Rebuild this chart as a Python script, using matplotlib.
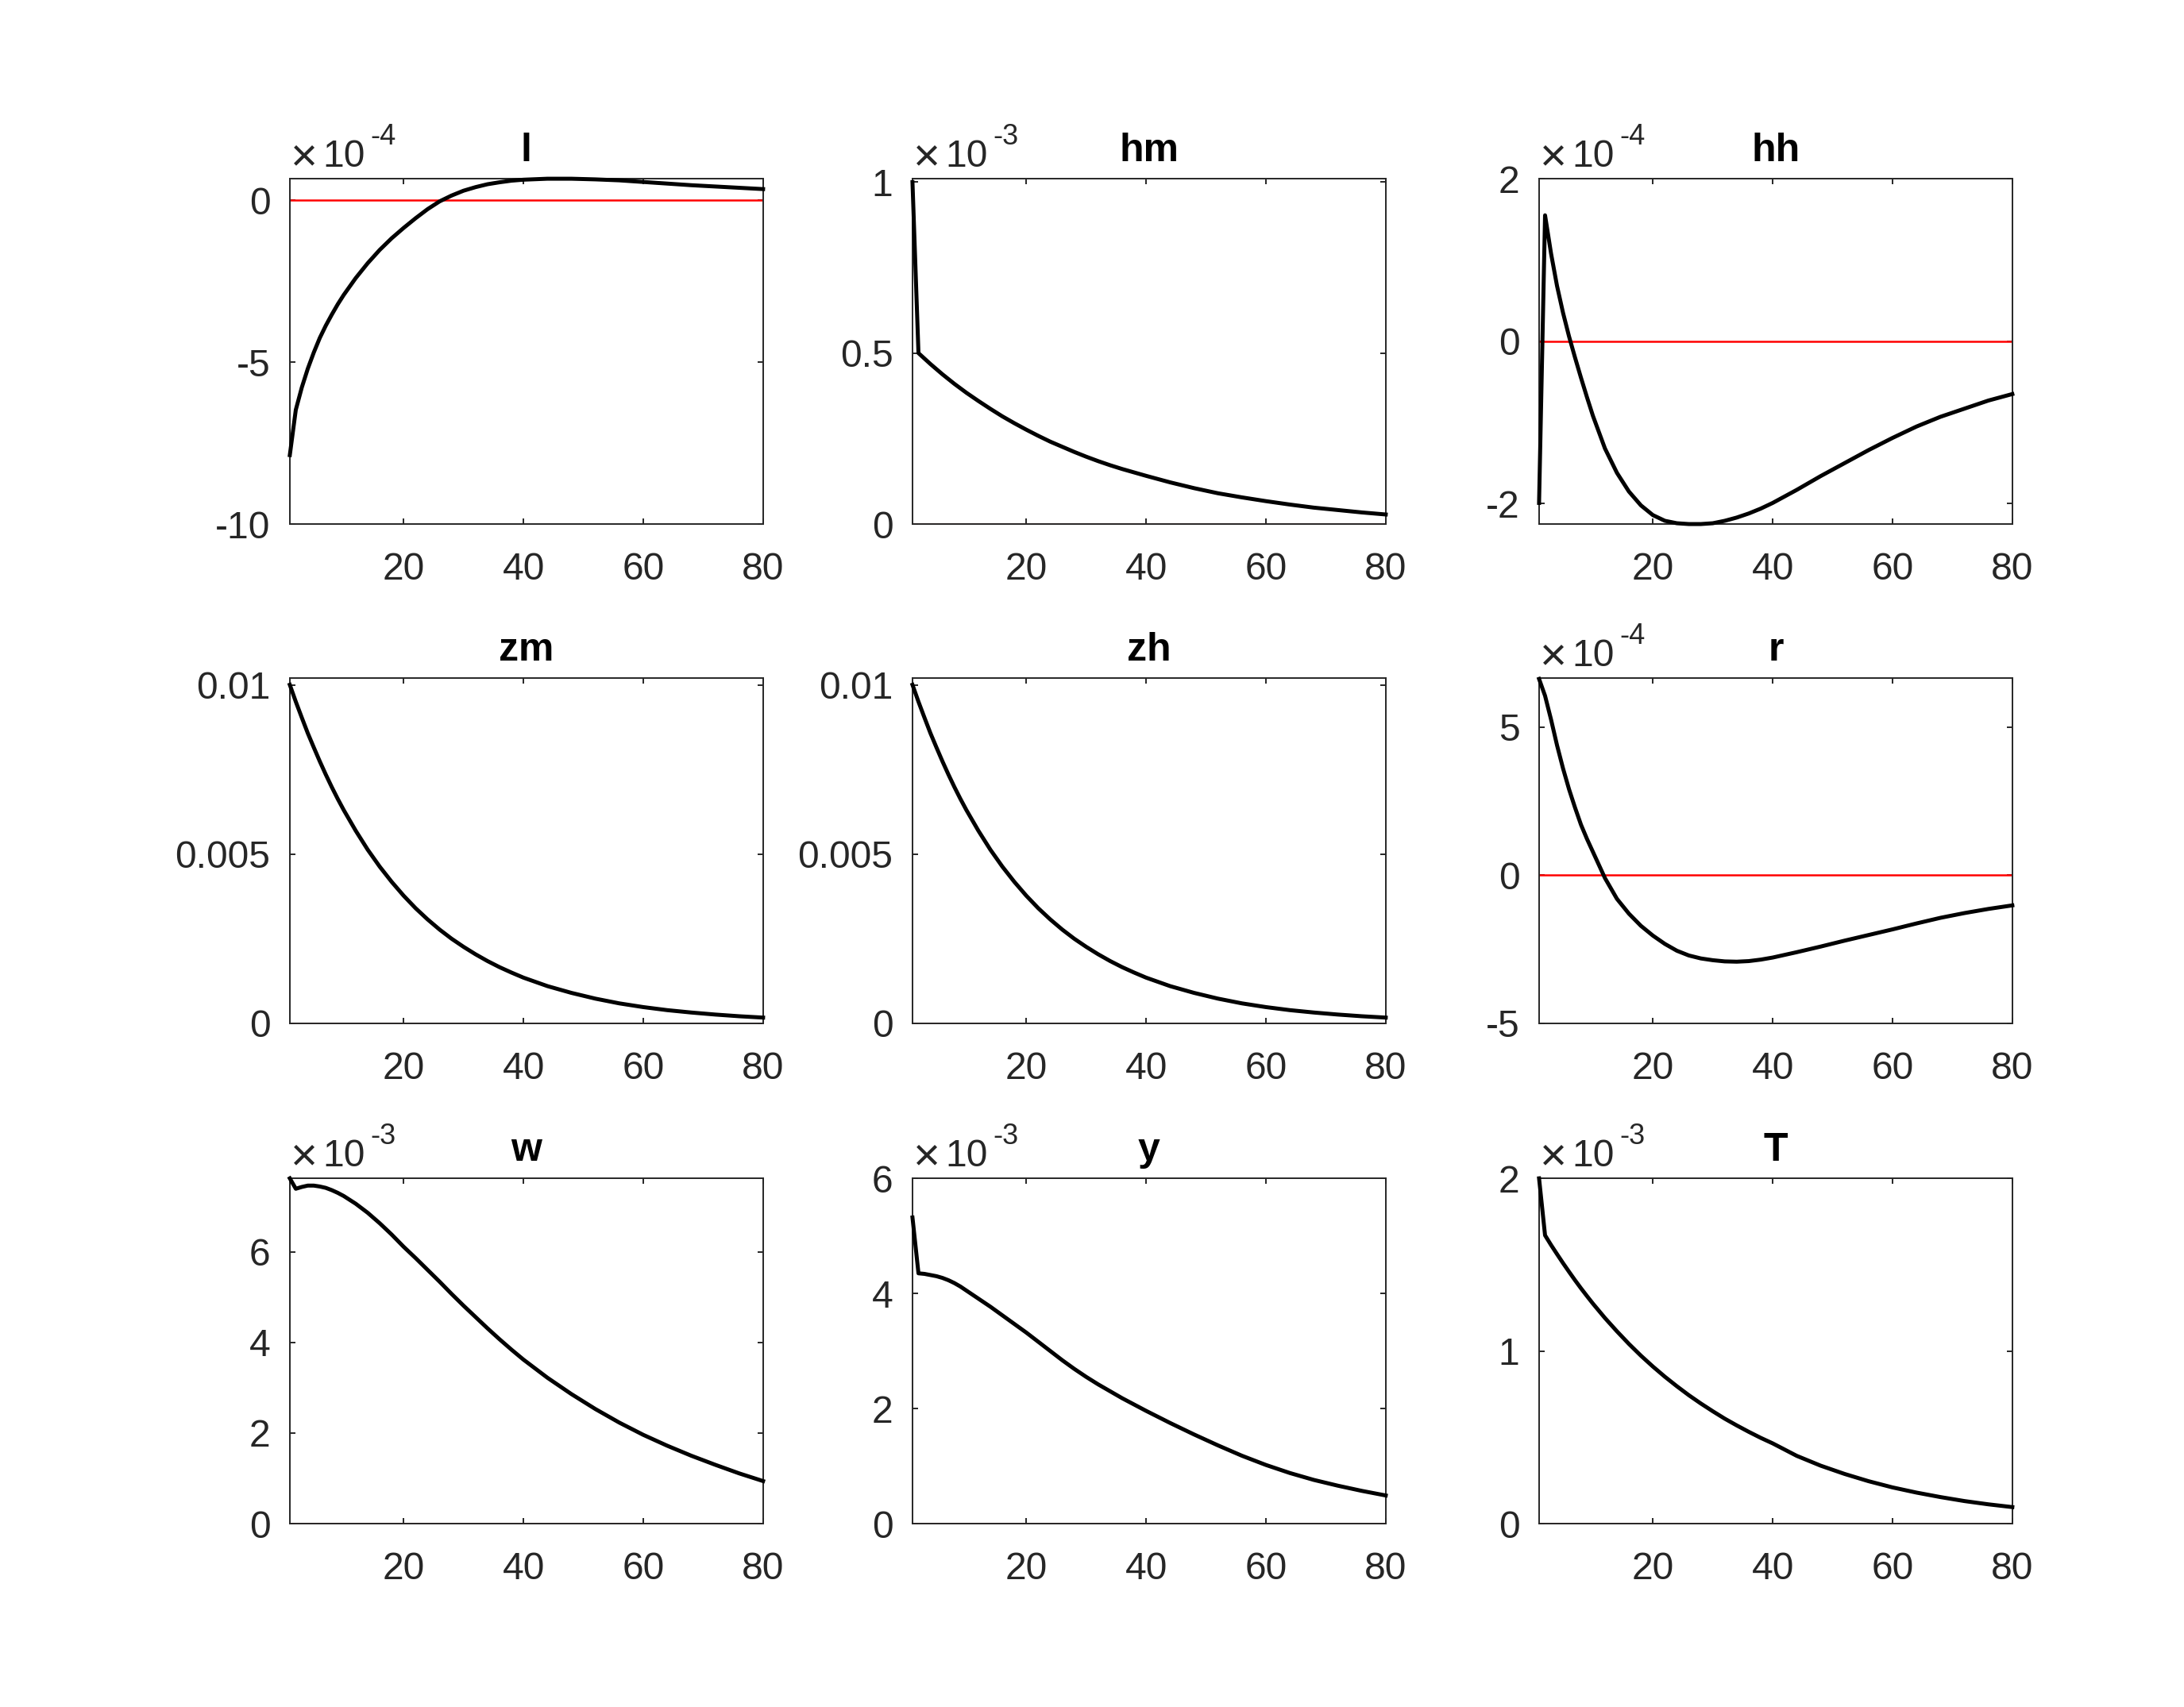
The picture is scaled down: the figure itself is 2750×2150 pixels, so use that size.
import numpy as np
import matplotlib
matplotlib.use('Agg')
import matplotlib.pyplot as plt

plt.rcParams['font.family'] = ['Liberation Sans', 'DejaVu Sans']
plt.rcParams['axes.unicode_minus'] = False

periods = [1, 2, 3, 4, 5, 6, 7, 8, 9, 10, 12, 14, 16, 18, 20, 22, 24, 26, 28, 30,
           32, 34, 36, 38, 40, 44, 48, 52, 56, 60, 64, 68, 72, 76, 80]

irf_l = np.array([-7.87, -6.47, -5.78, -5.2, -4.7, -4.25, -3.87, -3.53, -3.21, -2.92,
                  -2.4, -1.94, -1.53, -1.17, -0.85, -0.55, -0.27, -0.03, 0.15, 0.3,
                  0.41, 0.5, 0.56, 0.61, 0.64, 0.67, 0.67, 0.65, 0.62, 0.57,
                  0.52, 0.47, 0.43, 0.39, 0.35]) * 1e-4
irf_hm = np.array([1.0, 0.5, 0.484, 0.468, 0.453, 0.438, 0.424, 0.41, 0.397, 0.384,
                   0.36, 0.337, 0.315, 0.295, 0.276, 0.258, 0.241, 0.226, 0.211, 0.197,
                   0.184, 0.172, 0.161, 0.151, 0.141, 0.122, 0.105, 0.09, 0.078, 0.067,
                   0.057, 0.048, 0.041, 0.034, 0.028]) * 1e-3
irf_hh = np.array([-1.99, 1.55, 1.08, 0.68, 0.35, 0.06, -0.2, -0.45, -0.69, -0.92,
                   -1.32, -1.62, -1.85, -2.02, -2.14, -2.21, -2.24, -2.25, -2.25, -2.24,
                   -2.21, -2.17, -2.12, -2.06, -1.99, -1.83, -1.66, -1.5, -1.34, -1.19,
                   -1.05, -0.93, -0.83, -0.73, -0.65]) * 1e-4
irf_zm = np.array([10.0, 9.5, 9.03, 8.57, 8.15, 7.74, 7.35, 6.98, 6.63, 6.3,
                   5.69, 5.13, 4.63, 4.18, 3.77, 3.4, 3.07, 2.77, 2.5, 2.26,
                   2.04, 1.84, 1.66, 1.5, 1.35, 1.1, 0.9, 0.73, 0.59, 0.48,
                   0.39, 0.32, 0.26, 0.21, 0.17]) * 1e-3
irf_zh = np.array([10.0, 9.5, 9.03, 8.57, 8.15, 7.74, 7.35, 6.98, 6.63, 6.3,
                   5.69, 5.13, 4.63, 4.18, 3.77, 3.4, 3.07, 2.77, 2.5, 2.26,
                   2.04, 1.84, 1.66, 1.5, 1.35, 1.1, 0.9, 0.73, 0.59, 0.48,
                   0.39, 0.32, 0.26, 0.21, 0.17]) * 1e-3
irf_r = np.array([6.62, 6.05, 5.25, 4.38, 3.6, 2.9, 2.28, 1.7, 1.22, 0.78,
                  -0.1, -0.8, -1.3, -1.71, -2.04, -2.32, -2.55, -2.71, -2.81, -2.87,
                  -2.91, -2.92, -2.9, -2.85, -2.78, -2.6, -2.41, -2.21, -2.02, -1.83,
                  -1.63, -1.44, -1.28, -1.14, -1.02]) * 1e-4
irf_w = np.array([7.62, 7.39, 7.43, 7.46, 7.46, 7.44, 7.41, 7.36, 7.3, 7.23,
                  7.06, 6.86, 6.63, 6.38, 6.11, 5.86, 5.6, 5.34, 5.07, 4.81,
                  4.56, 4.31, 4.07, 3.84, 3.62, 3.22, 2.86, 2.53, 2.23, 1.96,
                  1.72, 1.5, 1.3, 1.11, 0.94]) * 1e-3
irf_y = np.array([5.32, 4.35, 4.34, 4.32, 4.3, 4.27, 4.23, 4.18, 4.12, 4.05,
                  3.91, 3.77, 3.62, 3.47, 3.32, 3.16, 3.0, 2.84, 2.69, 2.55,
                  2.42, 2.3, 2.18, 2.07, 1.96, 1.75, 1.55, 1.36, 1.18, 1.02,
                  0.88, 0.76, 0.66, 0.57, 0.49]) * 1e-3
irf_T = np.array([2.0, 1.67, 1.614, 1.561, 1.509, 1.459, 1.41, 1.363, 1.318, 1.274,
                  1.191, 1.114, 1.041, 0.973, 0.91, 0.851, 0.796, 0.744, 0.696, 0.651,
                  0.608, 0.569, 0.532, 0.497, 0.465, 0.393, 0.336, 0.288, 0.246, 0.21,
                  0.18, 0.154, 0.131, 0.112, 0.096]) * 1e-3

titles = ['l', 'hm', 'hh', 'zm', 'zh', 'r', 'w', 'y', 'T']
series = [irf_l, irf_hm, irf_hh, irf_zm, irf_zh, irf_r, irf_w, irf_y, irf_T]
exponents = [-4, -3, -4, 0, 0, -4, -3, -3, -3]
ylims = [(-10, 0.67), (0, 1.01), (-2.25, 2.0), (0, 0.0102), (0, 0.0102),
         (-5, 6.65), (0, 7.62), (0, 6), (0, 2.0)]
yticks = [[-10, -5, 0], [0, 0.5, 1], [-2, 0, 2], [0, 0.005, 0.01], [0, 0.005, 0.01],
          [-5, 0, 5], [0, 2, 4, 6], [0, 2, 4, 6], [0, 1, 2]]
yticklabels = [['-10', '-5', '0'], ['0', '0.5', '1'], ['-2', '0', '2'],
               ['0', '0.005', '0.01'], ['0', '0.005', '0.01'], ['-5', '0', '5'],
               ['0', '2', '4', '6'], ['0', '2', '4', '6'], ['0', '1', '2']]
xticks = [20, 40, 60, 80]

DPI = 200
fig = plt.figure(figsize=(2750 / DPI, 2150 / DPI), dpi=DPI)

col_left = [0.1327, 0.4178, 0.7047]
row_bottom = [0.6930, 0.4005, 0.1074]
ax_w, ax_h = 0.2167, 0.2023
grey = '#262626'

for k in range(9):
    ax = fig.add_axes([col_left[k % 3], row_bottom[k // 3], ax_w, ax_h])
    scale = 10.0 ** exponents[k]
    ax.plot([1, 80], [0, 0], color='red', lw=0.9, zorder=2)
    ax.plot(periods, series[k] / scale, color='black', lw=1.8, zorder=3,
            solid_joinstyle='round', clip_on=False)
    ax.set_xlim(1, 80)
    ax.set_ylim(*ylims[k])
    ax.set_xticks(xticks)
    ax.set_xticklabels([str(t) for t in xticks])
    ax.set_yticks(yticks[k])
    ax.set_yticklabels(yticklabels[k])
    for s in ax.spines.values():
        s.set_color(grey)
        s.set_linewidth(0.7)
    ax.tick_params(direction='in', length=2.4, width=0.7, color=grey,
                   labelcolor=grey, labelsize=17.3, top=True, right=True)
    ax.tick_params(axis='x', pad=12.5)
    ax.tick_params(axis='y', pad=8.8)
    ax.set_title(titles[k], fontsize=18, fontweight='bold', pad=8)
    if exponents[k] != 0:
        # MATLAB-style exponent label above the top-left corner
        kw = dict(xy=(0, 1), xycoords='axes fraction', textcoords='offset points',
                  ha='left', va='baseline', color=grey)
        ax.annotate('\u00d7', xytext=(0.2, 4.0), fontsize=21, fontweight='light', **kw)
        ax.annotate('10', xytext=(14.8, 5.4), fontsize=17.3, **kw)
        ax.annotate(str(exponents[k]), xytext=(36.5, 15.5), fontsize=13, **kw)

fig.savefig('out.png', dpi=DPI, facecolor='white')
